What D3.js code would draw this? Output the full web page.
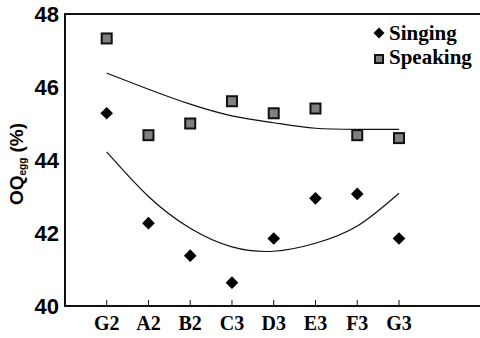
<!DOCTYPE html>
<html>
<head>
<meta charset="utf-8">
<script src="https://cdn.jsdelivr.net/npm/d3@7"></script>
<style>
  body { margin: 0; background: #fff; }
  svg { display: block; }
</style>
</head>
<body>
<div id="chart"></div>
<script>
// notes on the x axis
const notes = ["G2", "A2", "B2", "C3", "D3", "E3", "F3", "G3"];
// OQegg values
const singing = [45.28, 42.27, 41.38, 40.64, 41.85, 42.95, 43.07, 41.85];
const speaking = [47.33, 44.68, 45.0, 45.61, 45.28, 45.41, 44.68, 44.6];
// trend curves, sampled at each note
const singingTrend = [44.22, 43.0, 42.13, 41.62, 41.5, 41.72, 42.19, 43.09];
const speakingTrend = [46.38, 45.94, 45.53, 45.21, 45.02, 44.87, 44.84, 44.84];
const yTicks = [40, 42, 44, 46, 48];

const width = 480, height = 338;
const plotLeft = 65, plotTop = 14, plotBottom = 306;

const svg = d3.select("#chart").append("svg")
    .attr("width", width)
    .attr("height", height);

const x = d3.scalePoint().domain(notes).range([106.7, 399]);
const y = d3.scaleLinear().domain([40, 48]).range([plotBottom, plotTop]);

const serif = "'Liberation Serif', 'Times New Roman', serif";
const sans = "'Liberation Sans', Arial, sans-serif";

// frame: left, top, bottom
svg.append("path")
    .attr("d", `M${width + 5},${plotTop}H${plotLeft}V${plotBottom}H${width + 5}`)
    .attr("fill", "none")
    .attr("stroke", "#111")
    .attr("stroke-width", 2);

// x ticks (inside) and labels
svg.append("g").selectAll("line")
    .data(notes)
    .join("line")
    .attr("x1", d => x(d)).attr("x2", d => x(d))
    .attr("y1", plotBottom).attr("y2", plotBottom - 6)
    .attr("stroke", "#111")
    .attr("stroke-width", 1);

svg.append("g").selectAll("text")
    .data(notes)
    .join("text")
    .attr("x", d => x(d))
    .attr("y", 330)
    .attr("text-anchor", "middle")
    .attr("font-family", serif)
    .attr("font-weight", "bold")
    .attr("font-size", 20)
    .text(d => d);

// y tick labels
svg.append("g").selectAll("text")
    .data(yTicks)
    .join("text")
    .attr("x", 59)
    .attr("y", d => y(d))
    .attr("dy", "0.36em")
    .attr("text-anchor", "end")
    .attr("font-family", sans)
    .attr("font-weight", "bold")
    .attr("font-size", 22)
    .text(d => d);

// y axis title
const title = svg.append("text")
    .attr("transform", "translate(23,164) rotate(-90)")
    .attr("text-anchor", "middle")
    .attr("font-family", sans)
    .attr("font-weight", "bold")
    .attr("font-size", 19);
title.append("tspan").text("OQ");
title.append("tspan").attr("font-size", 10).attr("dy", 3).text("egg");
title.append("tspan").attr("dy", -3).text(" (%)");

// trend curves
const line = d3.line()
    .x((d, i) => x(notes[i]))
    .y(d => y(d))
    .curve(d3.curveNatural);

[singingTrend, speakingTrend].forEach(t => {
    svg.append("path")
        .attr("d", line(t))
        .attr("fill", "none")
        .attr("stroke", "#111")
        .attr("stroke-width", 1.2);
});

// speaking squares
const sq = 10;
svg.append("g").selectAll("rect")
    .data(speaking)
    .join("rect")
    .attr("x", (d, i) => x(notes[i]) - sq / 2)
    .attr("y", d => y(d) - sq / 2)
    .attr("width", sq)
    .attr("height", sq)
    .attr("fill", "#808080")
    .attr("stroke", "#111")
    .attr("stroke-width", 2);

// singing diamonds
svg.append("g").selectAll("path")
    .data(singing)
    .join("path")
    .attr("transform", (d, i) => `translate(${x(notes[i])},${y(d)}) rotate(45)`)
    .attr("d", d3.symbol().type(d3.symbolSquare).size(80))
    .attr("fill", "#000");

// legend
const legend = svg.append("g").attr("font-family", serif)
    .attr("font-weight", "bold").attr("font-size", 21);
legend.append("path")
    .attr("transform", "translate(379,33) rotate(45)")
    .attr("d", d3.symbol().type(d3.symbolSquare).size(60))
    .attr("fill", "#000");
legend.append("rect")
    .attr("x", 375).attr("y", 55).attr("width", 8).attr("height", 8)
    .attr("fill", "#808080").attr("stroke", "#111").attr("stroke-width", 2);
legend.append("text").attr("x", 389).attr("y", 40).text("Singing");
legend.append("text").attr("x", 389).attr("y", 64).text("Speaking");
</script>
</body>
</html>
